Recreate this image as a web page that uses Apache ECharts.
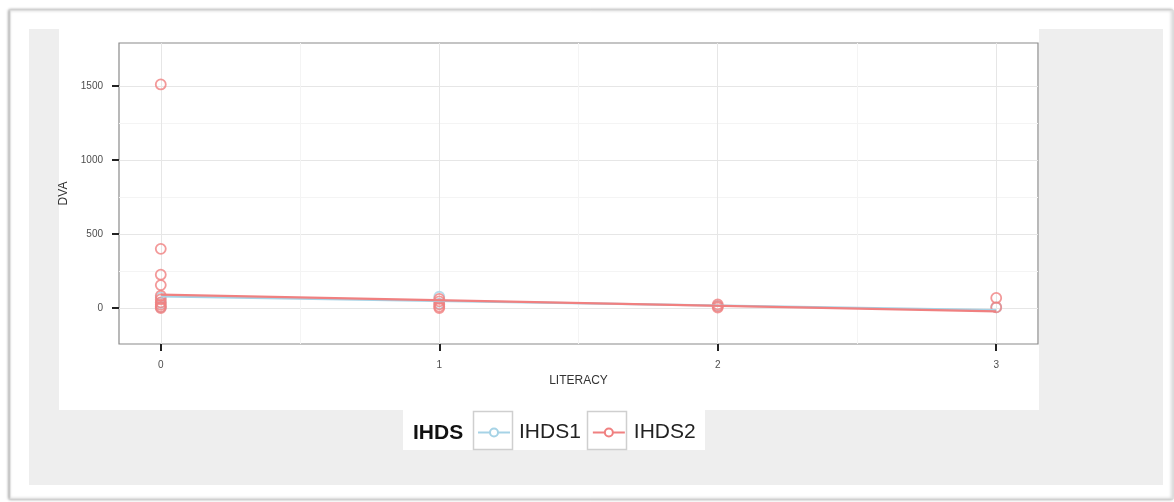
<!DOCTYPE html>
<html>
<head>
<meta charset="utf-8">
<style>
html, body { margin: 0; padding: 0; background: #fff; }
#chart { width: 1174px; height: 502px; }
</style>
<script src="https://cdn.jsdelivr.net/npm/echarts@6/dist/echarts.min.js"></script>
</head>
<body>
<div id="chart"></div>
<script>
// axis ticks
const literacyTicks = [0, 1, 2, 3];
const literacyMinor = [0.5, 1.5, 2.5];
const dvaTicks = [0, 500, 1000, 1500];
const dvaMinor = [250, 750, 1250];

// points [LITERACY, DVA]
const ihds1Points = [[0, 70], [0, 35], [0, 5], [1, 76], [1, 30], [2, 15], [3, 5]];
const ihds2Points = [
    [0, 1510], [0, 400], [0, 225], [0, 155], [0, 83], [0, 58], [0, 38], [0, 22], [0, 8], [0, 0],
    [1, 62], [1, 45], [1, 25], [1, 10], [1, 0],
    [2, 25], [2, 12], [2, 3],
    [3, 68], [3, 5]
];
// fitted lines
const ihds1Fit = [[0, 78], [3, -14]];
const ihds2Fit = [[0, 90], [3, -22]];

const blue = '#a6d3e6';
const red = '#f08080';
const font = '"Liberation Sans", Arial, sans-serif';

const chart = echarts.init(document.getElementById('chart'));

function fitSeries(name, data, color) {
    return {
        name: name,
        type: 'line',
        data: data,
        z: 4,
        symbol: 'emptyCircle',
        showSymbol: false,
        silent: true,
        lineStyle: { color: color, width: 2.2 },
        itemStyle: { color: color }
    };
}

function pointSeries(name, data, color) {
    return {
        name: name,
        type: 'scatter',
        data: data,
        z: 3,
        symbol: 'circle',
        symbolSize: 10,
        silent: true,
        itemStyle: { color: 'rgba(0,0,0,0)', borderColor: color, borderWidth: 1.8 }
    };
}

function plainLabel(v) {
    return String(v);
}

const option = {
    animation: false,
    textStyle: { fontFamily: font },
    graphic: [
        // page frame
        { type: 'rect', z: -20, shape: { x: 10, y: 10, width: 1163, height: 489 },
          style: { fill: '#fff', stroke: '#d6d6d6', lineWidth: 1, shadowBlur: 3, shadowColor: 'rgba(0,0,0,0.35)', shadowOffsetX: -1 } },
        { type: 'rect', z: -19, shape: { x: 29, y: 29, width: 1134, height: 456 }, style: { fill: '#eeeeee' } },
        { type: 'rect', z: -18, shape: { x: 59, y: 29, width: 980, height: 381 }, style: { fill: '#fff' } },
        // legend box
        { type: 'rect', z: -18, shape: { x: 403, y: 410, width: 302, height: 40 }, style: { fill: '#fff' } },
        { type: 'rect', z: -17, shape: { x: 473.5, y: 411.5, width: 39, height: 38 }, style: { fill: '#fff', stroke: '#cfcfcf', lineWidth: 1.5 } },
        { type: 'rect', z: -17, shape: { x: 587.5, y: 411.5, width: 39, height: 38 }, style: { fill: '#fff', stroke: '#cfcfcf', lineWidth: 1.5 } },
        { type: 'text', z: 10, style: { text: 'IHDS', x: 413, y: 433, fontSize: 21, fontWeight: 'bold', fontFamily: font, fill: '#111', verticalAlign: 'middle' } }
    ],
    legend: {
        left: 477,
        top: 422,
        padding: 0,
        itemWidth: 32,
        itemHeight: 10,
        itemGap: 11,
        data: ['IHDS1', 'IHDS2'],
        textStyle: { fontSize: 21, color: '#222', fontFamily: font, padding: [0, 0, 0, 4] }
    },
    grid: {
        left: 119, right: 136, top: 43, bottom: 158,
        show: true,
        backgroundColor: '#fff',
        borderColor: '#8a8a8a',
        borderWidth: 1.2
    },
    xAxis: [{
        type: 'value',
        min: -0.15,
        max: 3.15,
        name: 'LITERACY',
        nameLocation: 'middle',
        nameGap: 31,
        nameTextStyle: { fontSize: 12, color: '#333' },
        axisLine: { show: false, onZero: false },
        axisTick: { show: true, customValues: literacyTicks, length: 7, lineStyle: { color: '#222', width: 2 } },
        axisLabel: { customValues: literacyTicks, margin: 16, fontSize: 10, color: '#4d4d4d', formatter: plainLabel },
        splitLine: { show: true, lineStyle: { color: '#e6e6e6', width: 1 } }
    }, {
        type: 'value',
        min: -0.15,
        max: 3.15,
        axisLine: { show: false, onZero: false },
        axisTick: { show: false, customValues: literacyMinor },
        axisLabel: { show: false, customValues: literacyMinor },
        splitLine: { show: true, lineStyle: { color: '#f4f4f4', width: 1 } }
    }],
    yAxis: [{
        type: 'value',
        min: -243,
        max: 1790,
        name: 'DVA',
        nameLocation: 'middle',
        nameGap: 43,
        nameTextStyle: { fontSize: 12, color: '#333' },
        axisLine: { show: false, onZero: false },
        axisTick: { show: true, customValues: dvaTicks, length: 7, lineStyle: { color: '#222', width: 2 } },
        axisLabel: { customValues: dvaTicks, margin: 16, fontSize: 10, color: '#4d4d4d', formatter: plainLabel },
        splitLine: { show: true, lineStyle: { color: '#e6e6e6', width: 1 } }
    }, {
        type: 'value',
        min: -243,
        max: 1790,
        axisLine: { show: false, onZero: false },
        axisTick: { show: false, customValues: dvaMinor },
        axisLabel: { show: false, customValues: dvaMinor },
        splitLine: { show: true, lineStyle: { color: '#f4f4f4', width: 1 } }
    }],
    series: [
        fitSeries('IHDS1', ihds1Fit, blue),
        fitSeries('IHDS2', ihds2Fit, red),
        pointSeries('IHDS1', ihds1Points, blue),
        pointSeries('IHDS2', ihds2Points, red)
    ]
};

chart.setOption(option);
</script>
</body>
</html>
